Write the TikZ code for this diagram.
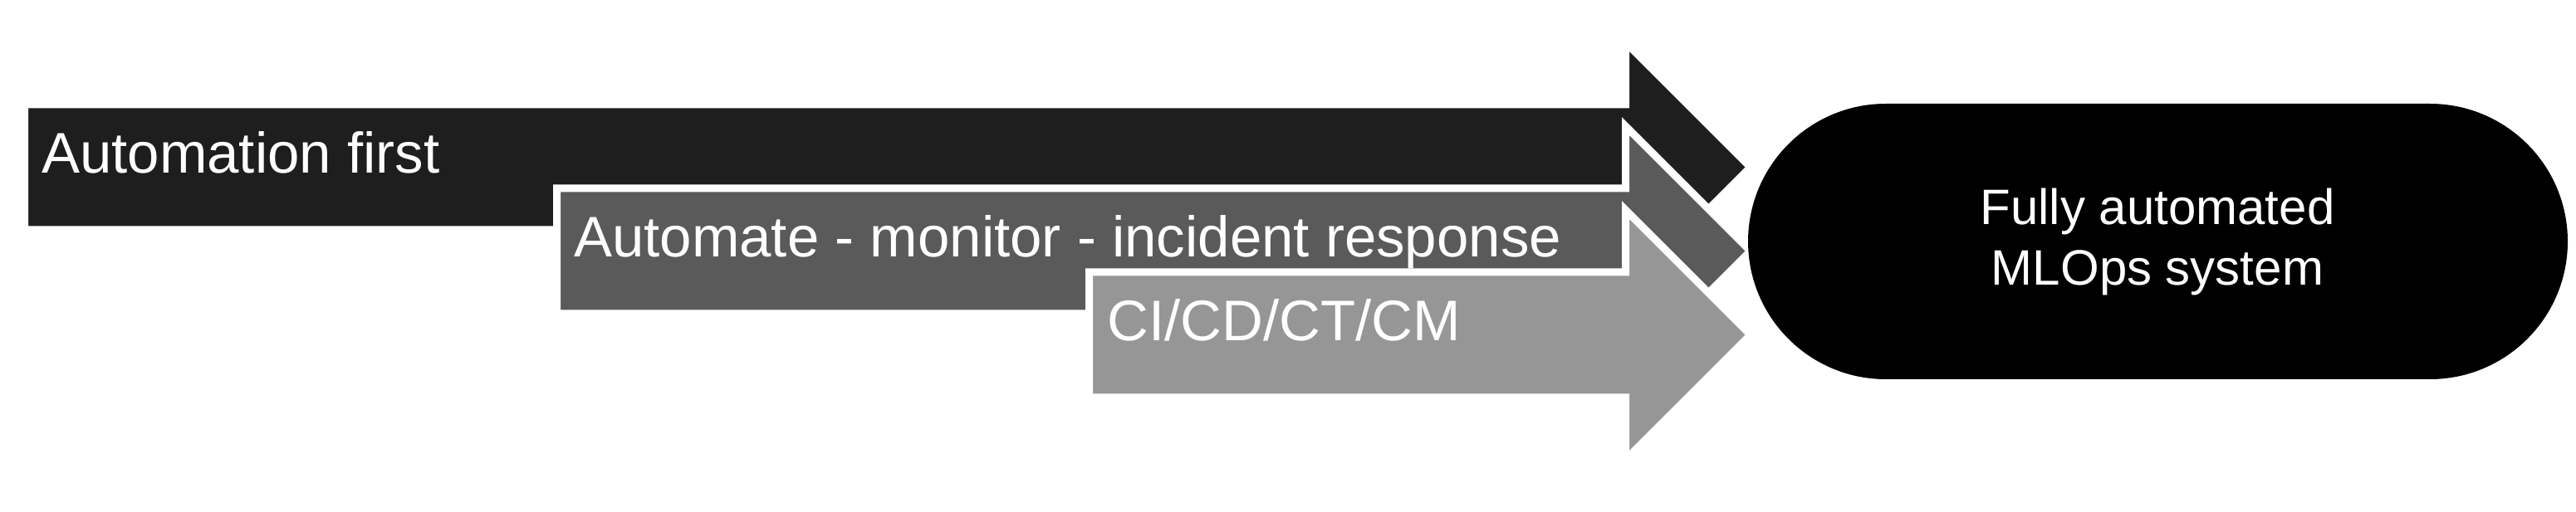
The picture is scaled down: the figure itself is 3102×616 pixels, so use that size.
\documentclass[tikz,border=0pt]{standalone}
\usepackage{fontspec}
\setmainfont{Liberation Sans}
\begin{document}
\begin{tikzpicture}[x=1pt,y=1pt,
  arrowshape/.style={line width=9pt, draw=white, miter limit=10},
  arrowtext/.style={anchor=base west, inner sep=0pt, text=white, font=\fontsize{69}{83}\selectfont},
  goaltext/.style={align=center, text=white, inner sep=0pt, font=\fontsize{60}{73}\selectfont}]
\useasboundingbox (0,0) rectangle (3102,616);
% arrow 1
\def\c{414.5}
\filldraw[arrowshape, fill={rgb,255:red,30;green,30;blue,30}]
  (29.5,\c-75.5) -- (29.5,\c+75.5) -- (1957.5,\c+75.5) -- (1957.5,\c+150.5)
  -- (2108,\c) -- (1957.5,\c-150.5) -- (1957.5,\c-75.5) -- cycle;
\node[arrowtext] (t1) at (50,407) {Automation first};
% arrow 2
\def\c{313.5}
\filldraw[arrowshape, fill={rgb,255:red,90;green,90;blue,90}]
  (670.5,\c-75.5) -- (670.5,\c+75.5) -- (1957.5,\c+75.5) -- (1957.5,\c+150.5)
  -- (2108,\c) -- (1957.5,\c-150.5) -- (1957.5,\c-75.5) -- cycle;
\node[arrowtext] (t2) at (691,306) {Automate - monitor - incident response};
% arrow 3
\def\c{212.5}
\filldraw[arrowshape, fill={rgb,255:red,150;green,150;blue,150}]
  (1311.5,\c-75.5) -- (1311.5,\c+75.5) -- (1957.5,\c+75.5) -- (1957.5,\c+150.5)
  -- (2108,\c) -- (1957.5,\c-150.5) -- (1957.5,\c-75.5) -- cycle;
\node[arrowtext] (t3) at (1333,205) {CI/CD/CT/CM};
% goal
\fill[black, rounded corners=166pt] (2105,159) rectangle (3092,491);
\node[goaltext] (goal) at (2598,325) {Fully automated\\MLOps system};
\end{tikzpicture}
\end{document}
